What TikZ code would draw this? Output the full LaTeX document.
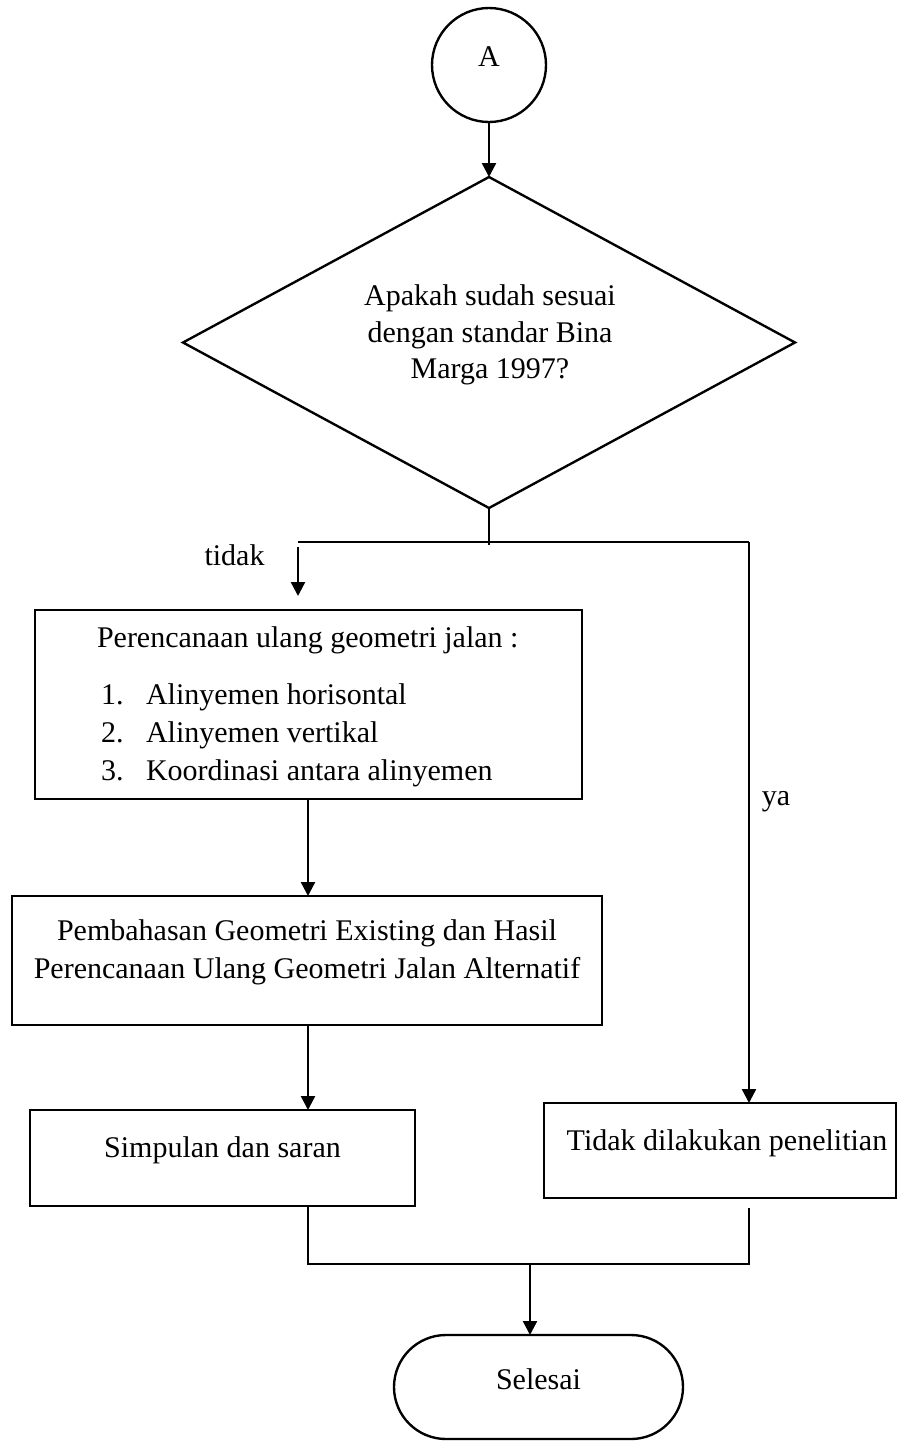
\documentclass[tikz,border=0pt]{standalone}
\usepackage{fontspec}
\setmainfont{Liberation Serif}
\usetikzlibrary{arrows.meta,shapes.geometric,shapes.misc,calc}
\begin{document}
\begin{tikzpicture}[x=0.4pt,y=-0.4pt,
  every node/.style={font=\fontsize{12}{14.6}\selectfont, inner sep=0pt, outer sep=0pt},
  shp/.style={draw, line width=0.95pt},
  txt/.style={anchor=base},
  txtl/.style={anchor=base west},
  ln/.style={line width=0.95pt},
  thin/.style={line width=0.5pt},
  arr/.style={line width=0.95pt, -{Triangle[width=5.6pt,length=5.6pt]}}]
\path[use as bounding box] (0,0) rectangle (898,1441);
% start connector
\node[shp, circle, minimum size=114*0.4pt] (A) at (489,65) {};
\node[txt] (At) at (489,66) {A};
% decision
\node[shp, diamond, minimum width=612*0.4pt, minimum height=331*0.4pt] (D) at (489,342.5) {};
\node[txt] (D1) at (490,305) {Apakah sudah sesuai};
\node[txt] (D2) at (490,342) {dengan standar Bina};
\node[txt] (D3) at (490,378) {Marga 1997?};
% box 1
\node[shp, rectangle, minimum width=547*0.4pt, minimum height=189*0.4pt] (B1) at (308.5,704.5) {};
\node[txtl] (B1t) at (97,647) {Perencanaan ulang geometri jalan :};
\node[txtl] (B1n1) at (101,704) {1.};
\node[txtl] (B1i1) at (146,704) {Alinyemen horisontal};
\node[txtl] (B1n2) at (101,742) {2.};
\node[txtl] (B1i2) at (146,742) {Alinyemen vertikal};
\node[txtl] (B1n3) at (101,780) {3.};
\node[txtl] (B1i3) at (146,780) {Koordinasi antara alinyemen};
% box 2
\node[shp, rectangle, minimum width=590*0.4pt, minimum height=129*0.4pt] (B2) at (307,960.5) {};
\node[txt] (B2a) at (307,940) {Pembahasan Geometri Existing dan Hasil};
\node[txt] (B2b) at (307,978) {Perencanaan Ulang Geometri Jalan Alternatif};
% box 3
\node[shp, rectangle, minimum width=385*0.4pt, minimum height=96*0.4pt] (B3) at (222.5,1158) {};
\node[txt] (B3t) at (222.5,1157) {Simpulan dan saran};
% box tidak
\node[shp, rectangle, minimum width=352*0.4pt, minimum height=95*0.4pt] (T) at (720,1150.5) {};
\node[txt] (Tt) at (727,1150) {Tidak dilakukan penelitian};
% terminal
\node[shp, rounded rectangle, minimum width=289*0.4pt, minimum height=104*0.4pt] (S) at (538.5,1387) {};
\node[txt] (St) at (538.5,1389) {Selesai};
% labels
\node[txt] (Ltidak) at (234.5,565) {tidak};
\node[txt] (Lya) at (776,805) {ya};
% helper coordinates
\coordinate (jD) at (489,545);
\coordinate (hl) at (298,542);
\coordinate (hr) at (749,542);
\coordinate (ts) at (298,547);
\coordinate (te) at (298,596);
\coordinate (colL) at (308,0);
\coordinate (jl) at (308,1264);
\coordinate (jr) at (749,1264);
\coordinate (tb) at (749,1208);
\coordinate (jm) at (530,1264);
% connectors
\draw[arr] (A.south) -- (D.north);
\draw[thin] (D.south) -- (jD);
\draw[ln] (hl) -- (hr);
\draw[arr] (hr) -- (hr |- T.north);
\draw[arr] (ts) -- (te);
\draw[arr] (B1.south -| colL) -- (B2.north -| colL);
\draw[arr] (B2.south -| colL) -- (B3.north -| colL);
\draw[ln] (B3.south -| colL) -- (jl) -- (jr) -- (tb);
\draw[arr] (jm) -- (jm |- S.north);
\end{tikzpicture}
\end{document}
